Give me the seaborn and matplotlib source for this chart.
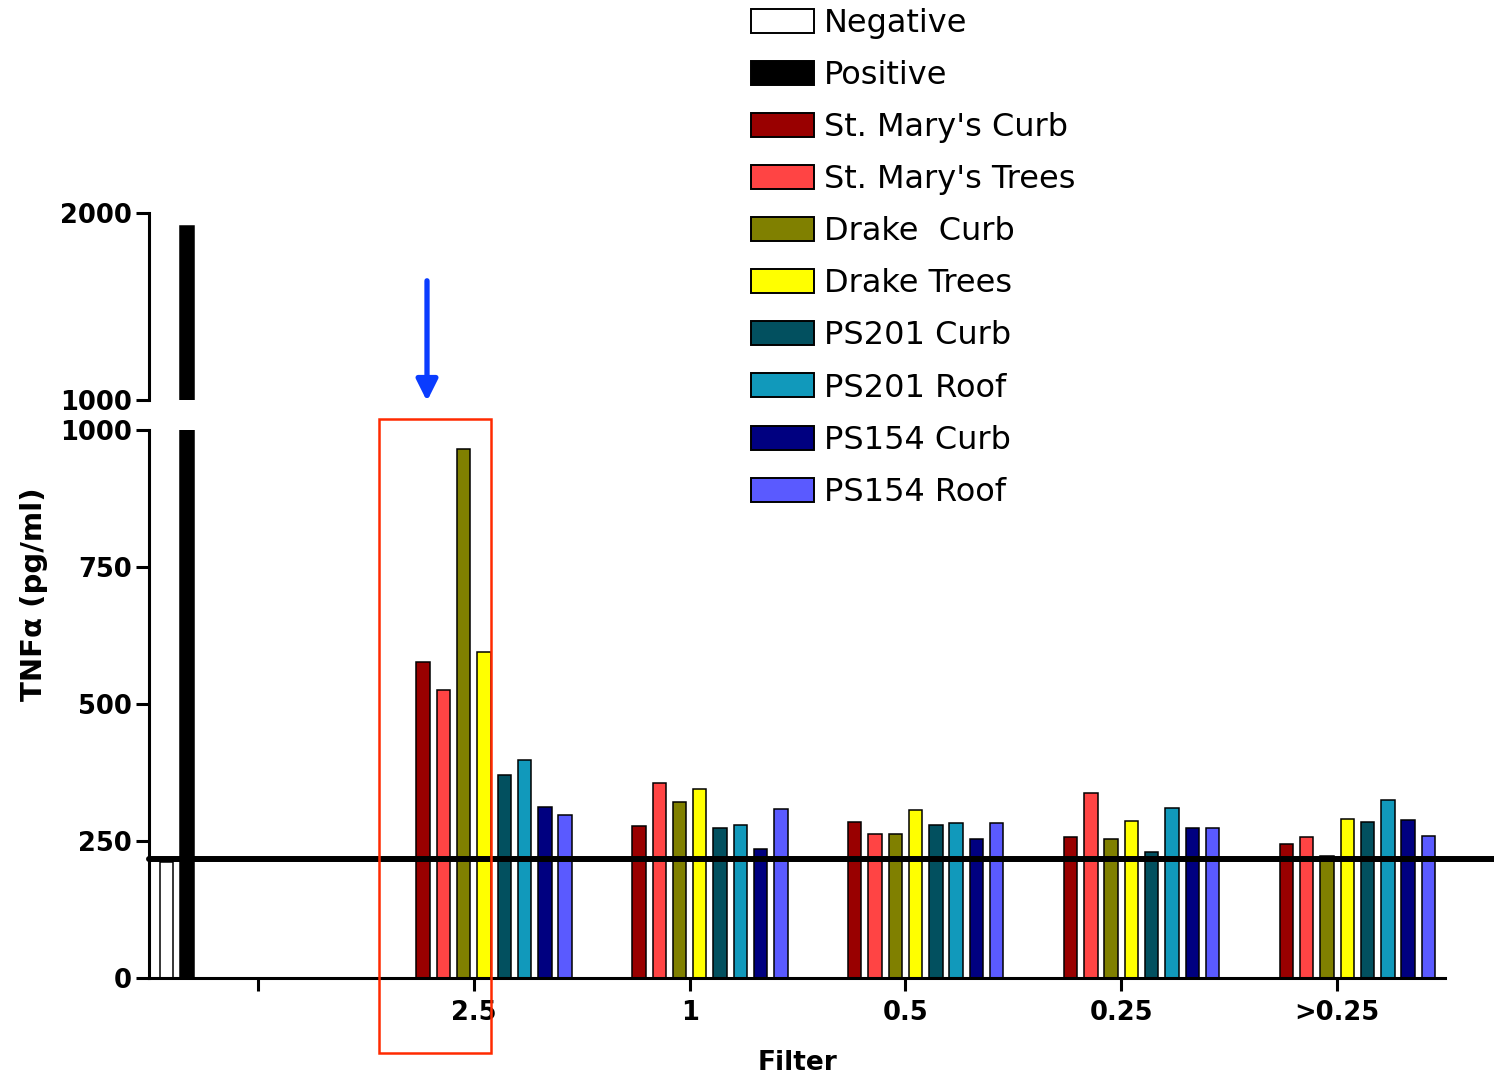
import numpy as np
import pandas as pd
import matplotlib
matplotlib.use("Agg")
import matplotlib.pyplot as plt
import seaborn as sns
from matplotlib.patches import Rectangle, Patch, FancyArrowPatch

nan = np.nan

# ---------------- data ----------------
filters = ["", "2.5", "1", "0.5", "0.25", ">0.25"]
series_names = ["Negative", "Positive", "St. Mary's Curb", "St. Mary's Trees",
                "Drake  Curb", "Drake Trees", "PS201 Curb", "PS201 Roof",
                "PS154 Curb", "PS154 Roof"]
negative = [212, nan, nan, nan, nan, nan]
positive = [1930, nan, nan, nan, nan, nan]
st_marys_curb = [nan, 577, 277, 284, 258, 245]
st_marys_trees = [nan, 525, 355, 262, 338, 257]
drake_curb = [nan, 965, 321, 262, 254, 222]
drake_trees = [nan, 595, 344, 307, 286, 290]
ps201_curb = [nan, 370, 273, 280, 230, 285]
ps201_roof = [nan, 398, 280, 283, 311, 325]
ps154_curb = [nan, 312, 235, 254, 274, 288]
ps154_roof = [nan, 297, 308, 283, 274, 260]
threshold = 217
colors = ["#FFFFFF", "#000000", "#990000", "#FF4444", "#808000", "#FFFF00",
          "#02505F", "#1199BB", "#000080", "#5A5AFF"]
lower_ticks = [0, 250, 500, 750, 1000]
upper_ticks = [1000, 2000]

all_series = [negative, positive, st_marys_curb, st_marys_trees, drake_curb,
              drake_trees, ps201_curb, ps201_roof, ps154_curb, ps154_roof]
rows = []
for name, vals in zip(series_names, all_series):
    for f, v in zip(filters, vals):
        if not np.isnan(v):
            rows.append({"Filter": f, "Series": name, "value": v})
df = pd.DataFrame(rows)
palette = dict(zip(series_names, colors))

# ---------------- figure ----------------
sns.set_style("ticks")
plt.rcParams["font.family"] = ["DejaVu Sans"]
plt.rcParams.update({"text.color": "black", "axes.labelcolor": "black",
                     "xtick.color": "black", "ytick.color": "black",
                     "axes.edgecolor": "black"})

W, H = 1494, 1079
fig = plt.figure(figsize=(W / 100, H / 100), dpi=100)

def fx(px):
    return px / W

def fy(py):
    return 1 - py / H

ax = fig.add_axes([fx(149), fy(978), fx(1445) - fx(149), fy(430) - fy(978)])
axu = fig.add_axes([fx(149), fy(400), fx(1445) - fx(149), fy(213) - fy(400)])

for a in (ax, axu):
    sns.barplot(data=df, x="Filter", y="value", hue="Series", order=filters,
                hue_order=series_names, palette=palette, saturation=1,
                width=0.94, gap=0.34, dodge=True, errorbar=None,
                edgecolor="black", linewidth=1.1, legend=False, ax=a)
    a.set_xlim(-0.505, 5.5)

ax.set_ylim(0, 1000)
axu.set_ylim(1000, 2000)

# threshold line
ax.axhline(threshold, xmin=0, xmax=(1494 - 149) / (1445 - 149), color="black",
           lw=4.3, clip_on=False, zorder=5)

# axes styling
for a in (ax, axu):
    a.spines["top"].set_visible(False)
    a.spines["right"].set_visible(False)
    a.spines["left"].set_linewidth(2.2)
    a.tick_params(axis="y", length=9.5, width=2.2, pad=3, labelsize=18.5)
ax.spines["bottom"].set_linewidth(2.2)
axu.spines["bottom"].set_visible(False)
axu.tick_params(axis="x", bottom=False, labelbottom=False)
axu.set_xlabel("")
axu.set_ylabel("")

ax.set_yticks(lower_ticks)
ax.set_yticklabels([str(t) for t in lower_ticks], fontweight="bold", fontsize=18.5)
axu.set_yticks(upper_ticks)
axu.set_yticklabels([str(t) for t in upper_ticks], fontweight="bold", fontsize=18.5)

ax.tick_params(axis="x", length=9, width=2.2, pad=7, labelsize=18.5)
ax.set_xticks(range(len(filters)))
ax.set_xticklabels(filters, fontweight="bold", fontsize=18.5)
ax.set_xlabel("Filter", fontweight="bold", fontsize=19, labelpad=17)
ax.set_ylabel("TNF\u03b1 (pg/ml)", fontweight="bold", fontsize=21)
ax.yaxis.set_label_coords(-0.078, 0.70)

# legend
handles = [Patch(facecolor=c, edgecolor="black", linewidth=1.4) for c in colors]
fig.legend(handles, series_names, loc="upper left",
           bbox_to_anchor=(fx(751), fy(8)), frameon=False, fontsize=23,
           handlelength=1.97, handleheight=0.78, handletextpad=0.3,
           labelspacing=0.66, borderaxespad=0, borderpad=0)

# highlight box and arrow
fig.add_artist(Rectangle((fx(379), fy(1053)), fx(491) - fx(379), fy(419) - fy(1053),
                         transform=fig.transFigure, fill=False,
                         edgecolor="#FF2A00", lw=1.8))
fig.add_artist(FancyArrowPatch(
    (fx(427), fy(278)), (fx(427), fy(404)), transform=fig.transFigure,
    arrowstyle="-|>", mutation_scale=32, color="#0A3CFF", lw=3.8))

fig.savefig("out.png", dpi=100)
